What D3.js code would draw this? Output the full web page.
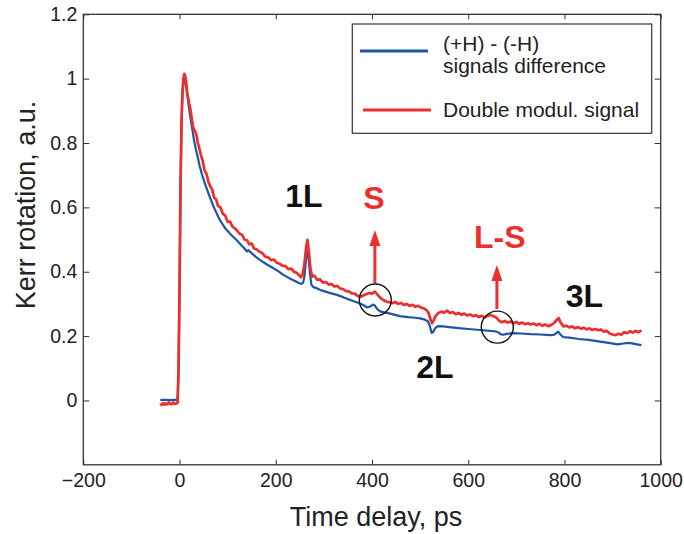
<!DOCTYPE html>
<html>
<head>
<meta charset="utf-8">
<script src="https://cdn.jsdelivr.net/npm/d3@7"></script>
<style>
  html, body { margin: 0; padding: 0; background: #fff; }
  svg { display: block; font-family: "Liberation Sans", Arial, Helvetica, sans-serif; }
</style>
</head>
<body>
<svg id="chart" width="684" height="534"></svg>
<script>
// ---------- data ----------
const xTicks = [-200, 0, 200, 400, 600, 800, 1000];
const yTicks = [0, 0.2, 0.4, 0.6, 0.8, 1, 1.2];

const seriesNames = ["(+H) - (-H)", "signals difference", "Double modul. signal"];

// (+H) - (-H) signals difference : [time ps, Kerr rotation]
const blueData = [
  [-40,.002],[-30,.002],[-20,.001],[-10,.002],[-4,.002],[-2,.1],[0,.35],[2,.65],[4,.85],[6,.95],[8,.985],[11,.994],
  [14,.975],[17,.94],[20,.905],[23,.875],[26,.848],[30,.81],[34,.78],[38,.755],[42,.728],[47,.70],[53,.673],[58,.652],
  [63,.632],[70,.605],[77,.582],[85,.558],[95,.535],[105,.518],[119,.498],[128,.483],[135,.472],[140,.463],[143,.467],
  [148,.46],[158,.447],[167,.437],[180,.424],[195,.411],[205,.402],[215,.391],[228,.38],[240,.371],[248,.365],[253,.362],
  [257,.366],[260,.39],[263,.44],[266,.462],[268,.445],[271,.395],[274,.36],[278,.352],[285,.349],[295,.342],[310,.335],
  [327,.328],[340,.321],[355,.312],[368,.305],[380,.298],[390,.289],[396,.292],[402,.298],[406,.295],[411,.284],[417,.277],
  [428,.273],[440,.269],[458,.262],[475,.259],[490,.257],[500,.255],[510,.251],[516,.246],[520,.232],[524,.21],[527,.212],
  [531,.224],[537,.231],[548,.23],[560,.228],[580,.225],[600,.222],[625,.219],[645,.216],[655,.215],[662,.212],[667,.206],
  [673,.204],[680,.207],[694,.209],[710,.208],[730,.206],[750,.205],[770,.203],[778,.204],[783,.209],[787,.214],[791,.206],
  [797,.197],[810,.195],[830,.191],[850,.188],[874,.183],[895,.178],[910,.174],[922,.177],[935,.179],[948,.175],[960,.172]
];

// Double modulation signal : [time ps, Kerr rotation]
const redData = [
  [-40,-.01],[-37,-.014],[-34,-.008],[-31,-.013],[-28,-.009],[-25,-.012],[-22,-.006],[-19,-.011],[-16,-.012],[-13,-.006],
  [-10,-.011],[-7,-.01],[-4,-.007],[-2,.1],[0,.35],[2,.66],[4,.86],[6,.96],[8,1.0],[10,1.015],[12,1.008],[14,.985],[16,.955],
  [18,.94],[20,.922],[22,.91],[24,.89],[26,.87],[28,.852],[30,.842],[32,.838],[34,.83],[36,.82],[38,.80],[40,.79],
  [44,.765],[48,.745],[52,.715],[56,.705],[60,.68],[64,.665],[68,.655],[72,.63],[76,.625],[80,.605],[85,.6],[90,.58],
  [95,.575],[100,.555],[105,.556],[110,.54],[115,.535],[120,.527],[125,.518],[130,.515],[135,.50],[140,.498],[145,.485],
  [150,.488],[155,.472],[160,.47],[166,.462],[172,.458],[178,.447],[184,.445],[190,.436],[196,.438],[202,.428],[208,.425],
  [214,.418],[220,.418],[226,.408],[232,.41],[238,.4],[244,.396],[248,.39],[252,.383],[256,.392],[260,.43],[263,.475],
  [266,.499],[269,.46],[272,.41],[276,.385],[280,.388],[286,.375],[292,.376],[298,.366],[304,.368],[310,.36],[316,.362],
  [322,.354],[328,.356],[334,.348],[340,.346],[346,.34],[352,.339],[358,.333],[364,.332],[370,.325],[376,.322],[382,.326],
  [388,.33],[394,.334],[400,.332],[406,.338],[412,.328],[418,.318],[424,.312],[430,.307],[436,.305],[442,.302],[448,.306],
  [454,.3],[460,.303],[466,.297],[472,.3],[478,.294],[484,.297],[490,.291],[496,.294],[502,.289],[508,.286],[514,.28],
  [518,.27],[522,.25],[525,.24],[528,.248],[532,.262],[538,.272],[544,.276],[550,.273],[556,.279],[562,.272],[568,.275],
  [574,.268],[580,.272],[586,.266],[592,.27],[598,.264],[604,.267],[610,.262],[616,.265],[622,.259],[628,.263],[634,.258],
  [640,.262],[646,.266],[652,.262],[658,.258],[664,.248],[670,.243],[676,.247],[682,.242],[688,.245],[694,.24],[700,.244],
  [706,.238],[712,.242],[718,.237],[724,.24],[730,.236],[736,.239],[742,.234],[748,.238],[754,.232],[760,.236],[766,.231],
  [772,.234],[778,.24],[784,.25],[788,.256],[792,.242],[798,.23],[804,.232],[810,.227],[816,.23],[822,.224],[828,.228],
  [834,.223],[840,.226],[846,.221],[852,.224],[858,.219],[864,.222],[870,.218],[876,.22],[882,.214],[888,.216],[894,.208],
  [900,.205],[906,.203],[912,.207],[918,.204],[924,.212],[930,.209],[936,.215],[942,.211],[948,.216],[954,.212],[960,.218]
];

// annotation labels
const labelTexts = ["1L", "S", "2L", "L-S", "3L"];
const labelAnchors = [[258.6,.601],[404,.595],[530.9,.07],[665.7,.474],[841.6,.29]];
const labelIsRed = [false, true, false, true, false];
const circleCenters = [[406.8,.312],[660.4,.228]];
const arrowSpans = [[406,.365,.53],[659.6,.284,.421]];

// ---------- drawing ----------
const m = {left: 83.3, right: 660.7, top: 14.3, bottom: 464.8};
const blue = "#1f55a6", red = "#ee2d2d", ink = "#222";

const svg = d3.select("#chart");
const x = d3.scaleLinear().domain([-200, 1000]).range([m.left, m.right]);
const y = d3.scaleLinear().domain([-0.2, 1.2]).range([m.bottom, m.top]);

// axes
const gx = svg.append("g").attr("transform", `translate(0,${m.bottom})`)
  .call(d3.axisBottom(x).tickValues(xTicks).tickFormat(d3.format("d")).tickSize(-5).tickPadding(8));
const gy = svg.append("g").attr("transform", `translate(${m.left},0)`)
  .call(d3.axisLeft(y).tickValues(yTicks).tickFormat(d3.format("~g")).tickSize(-6).tickPadding(6));
const gxt = svg.append("g").attr("transform", `translate(0,${m.top})`)
  .call(d3.axisTop(x).tickValues(xTicks).tickSize(-5).tickFormat(""));
const gyr = svg.append("g").attr("transform", `translate(${m.right},0)`)
  .call(d3.axisRight(y).tickValues(yTicks).tickSize(-6).tickFormat(""));
[gx, gy, gxt, gyr].forEach(g => {
  g.select(".domain").remove();
  g.selectAll(".tick line").attr("stroke", "#333").attr("stroke-width", 1);
  g.selectAll(".tick text").attr("fill", ink).style("font-size", "19.5px")
    .style("font-family", '"Liberation Sans", Arial, sans-serif');
});

svg.append("rect").attr("x", m.left).attr("y", m.top)
  .attr("width", m.right - m.left).attr("height", m.bottom - m.top)
  .attr("fill", "none").attr("stroke", "#333").attr("stroke-width", 1.3);

// lines
const line = d3.line().x(d => x(d[0])).y(d => y(d[1]));
svg.append("path").datum(blueData).attr("d", line)
  .attr("fill", "none").attr("stroke", blue).attr("stroke-width", 2.2).attr("stroke-linejoin", "round");
svg.append("path").datum(redData).attr("d", line)
  .attr("fill", "none").attr("stroke", red).attr("stroke-width", 2.7).attr("stroke-linejoin", "round");

// circles
circleCenters.forEach(c => {
  svg.append("circle").attr("cx", x(c[0])).attr("cy", y(c[1])).attr("r", 16)
    .attr("fill", "none").attr("stroke", "#111").attr("stroke-width", 1.4);
});

// arrows
arrowSpans.forEach(a => {
  const ax = x(a[0]), y0 = y(a[1]), yTip = y(a[2]);
  svg.append("line").attr("x1", ax).attr("x2", ax).attr("y1", y0).attr("y2", yTip + 12)
    .attr("stroke", red).attr("stroke-width", 3);
  svg.append("path").attr("d", `M${ax},${yTip} L${ax - 5.5},${yTip + 16} L${ax + 5.5},${yTip + 16} Z`)
    .attr("fill", red);
});

// labels
labelTexts.forEach((t, i) => {
  svg.append("text").attr("x", x(labelAnchors[i][0])).attr("y", y(labelAnchors[i][1]))
    .attr("text-anchor", "middle").attr("font-weight", "bold").attr("font-size", 32)
    .attr("fill", labelIsRed[i] ? red : "#111").text(t);
});

// axis titles
svg.append("text").attr("x", 376).attr("y", 526).attr("text-anchor", "middle")
  .attr("font-size", 27).attr("fill", ink).text("Time delay, ps");
svg.append("text").attr("transform", "translate(35,205) rotate(-90)").attr("text-anchor", "middle")
  .attr("font-size", 27).attr("fill", ink).text("Kerr rotation, a.u.");

// legend
const lg = svg.append("g");
lg.append("rect").attr("x", 352.3).attr("y", 24).attr("width", 299.4).attr("height", 109.3)
  .attr("fill", "#fff").attr("stroke", "#333").attr("stroke-width", 1.2);
lg.append("line").attr("x1", 360).attr("x2", 428).attr("y1", 51).attr("y2", 51)
  .attr("stroke", blue).attr("stroke-width", 3);
lg.append("line").attr("x1", 363).attr("x2", 431).attr("y1", 110).attr("y2", 110)
  .attr("stroke", red).attr("stroke-width", 3);
[[seriesNames[0], 50.5], [seriesNames[1], 73.3], [seriesNames[2], 117.3]].forEach(([t, by]) => {
  lg.append("text").attr("x", 443).attr("y", by).attr("font-size", 21).attr("fill", ink).text(t);
});
</script>
</body>
</html>
